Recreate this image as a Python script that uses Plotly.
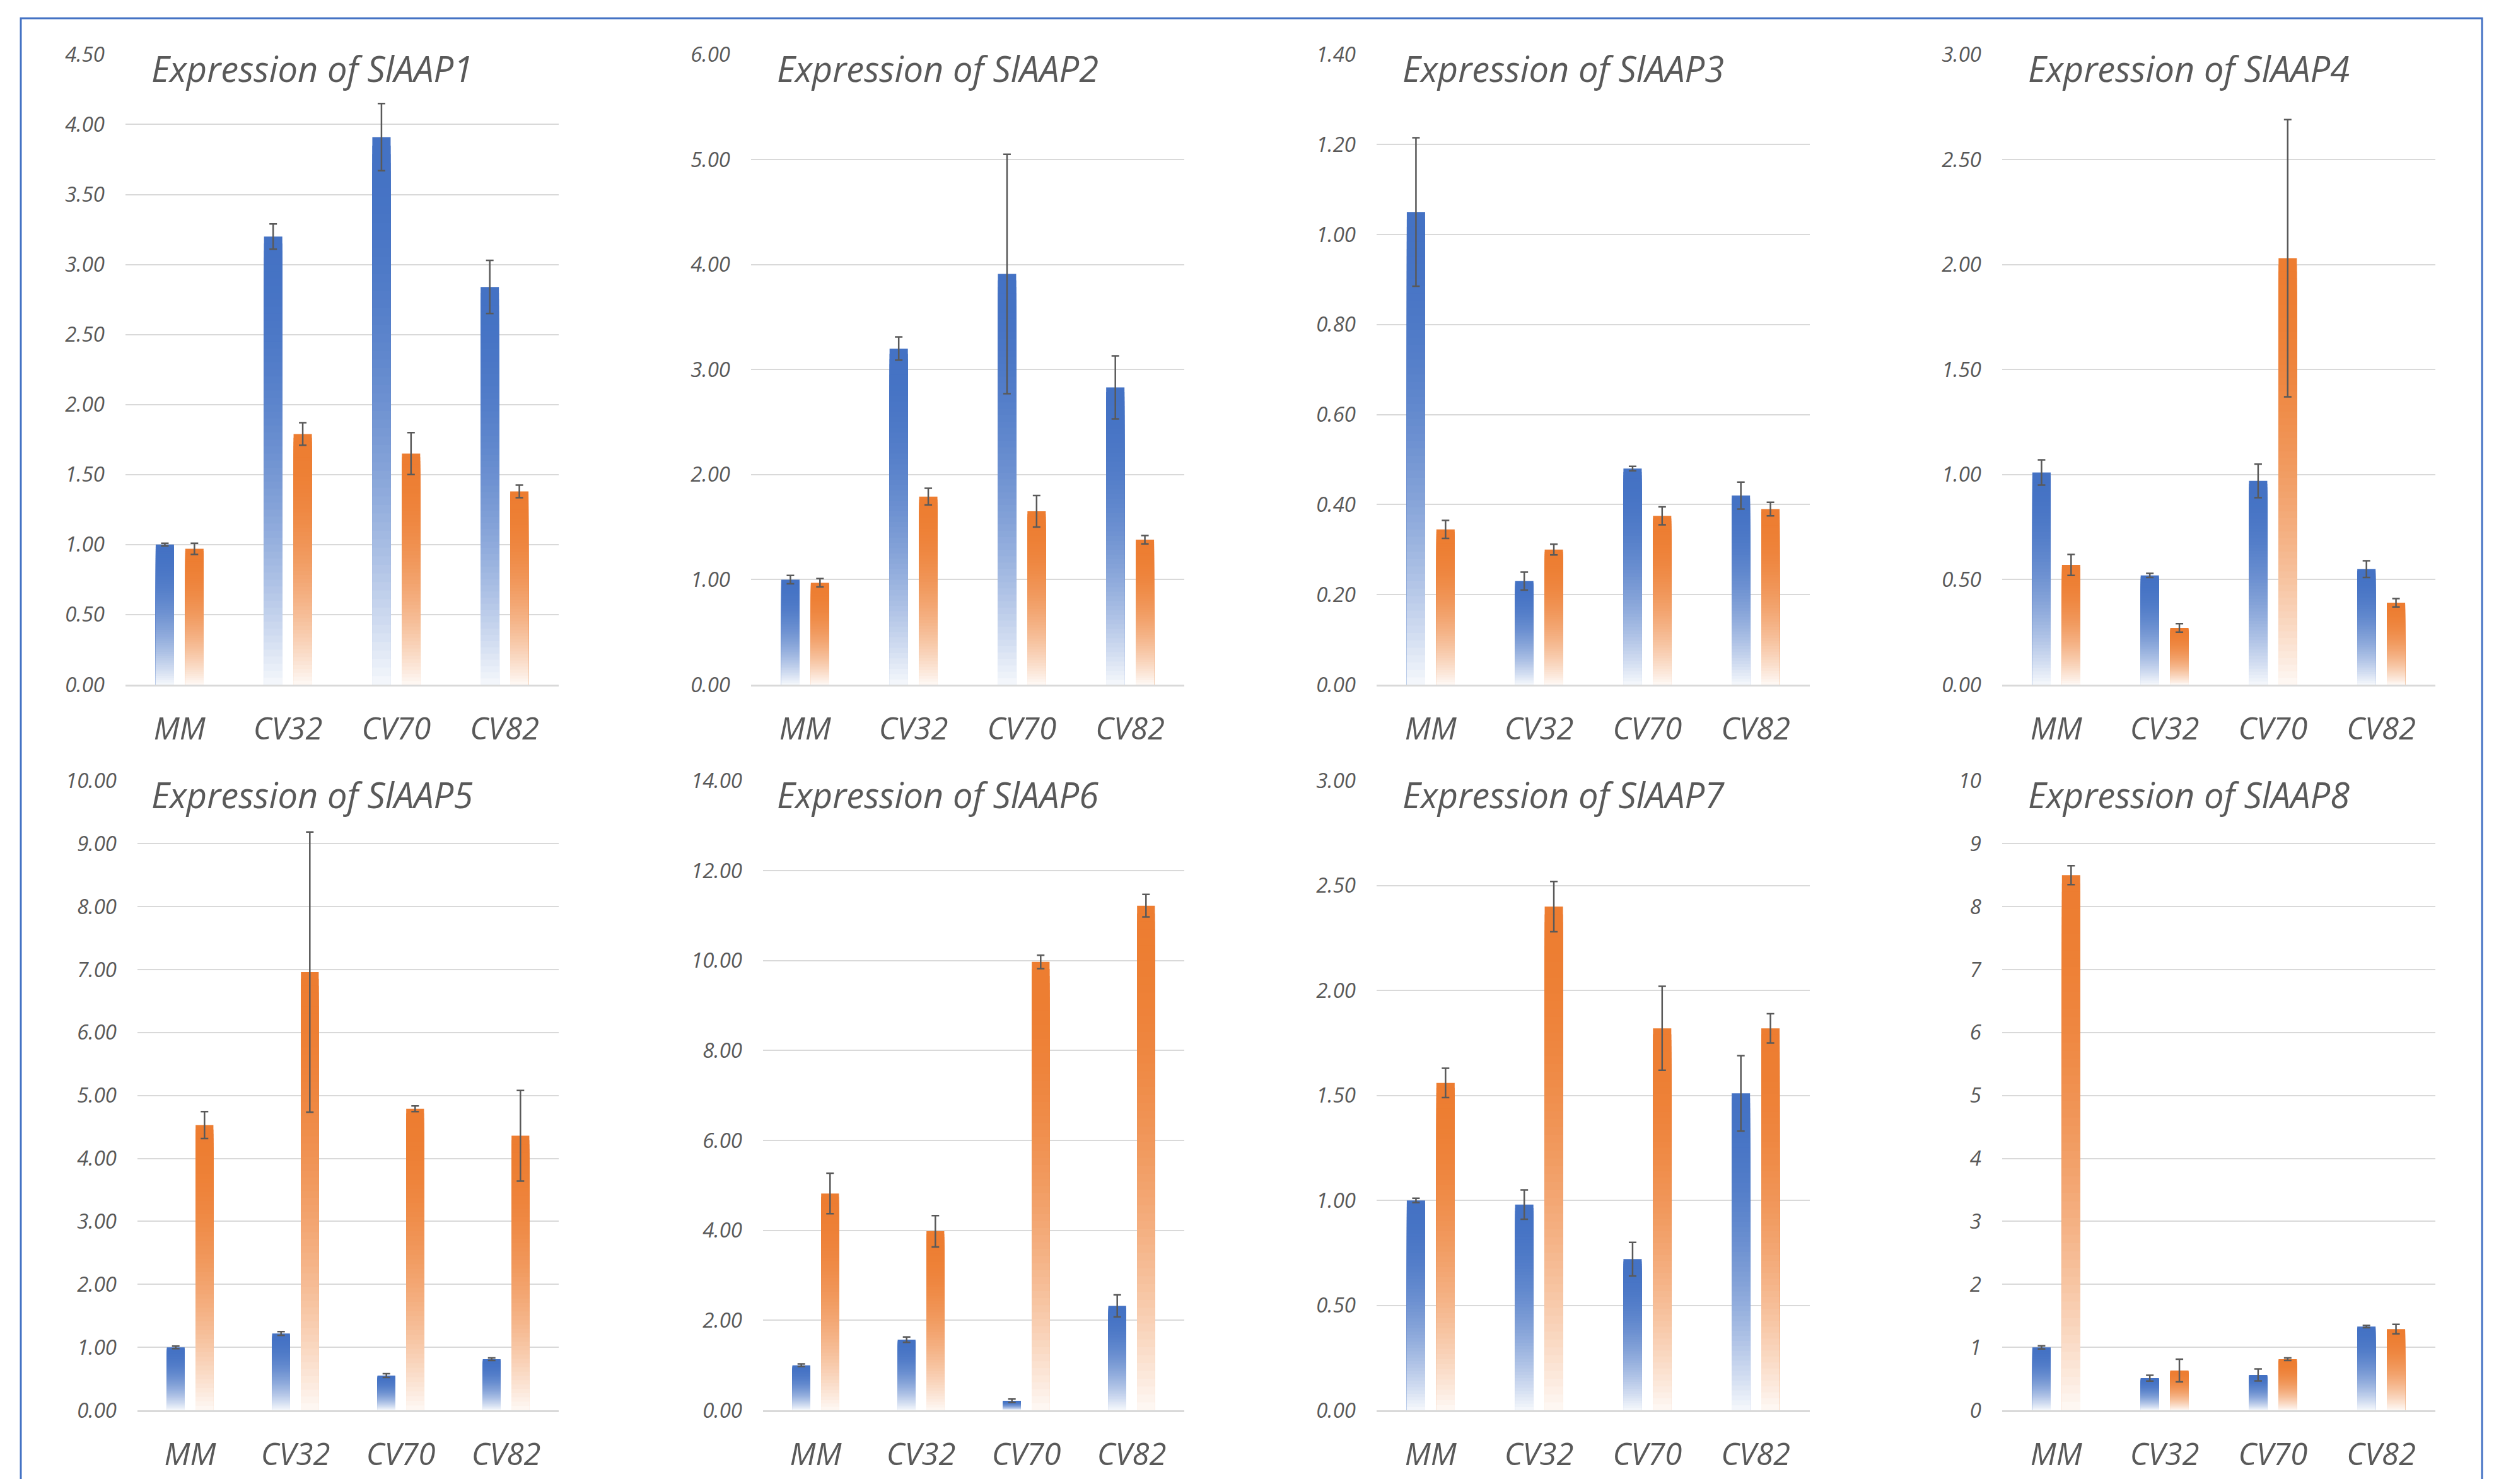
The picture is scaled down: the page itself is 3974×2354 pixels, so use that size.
import plotly.graph_objects as go

# ---------------- data ----------------
categories = ["MM", "CV32", "CV70", "CV82"]
titles = ["Expression of SlAAP1", "Expression of SlAAP2", "Expression of SlAAP3", "Expression of SlAAP4",
          "Expression of SlAAP5", "Expression of SlAAP6", "Expression of SlAAP7", "Expression of SlAAP8"]

aap1_blue = [1.00, 3.20, 3.91, 2.84]
aap1_blue_err = [0.01, 0.09, 0.24, 0.19]
aap1_orange = [0.97, 1.79, 1.65, 1.38]
aap1_orange_err = [0.04, 0.08, 0.15, 0.045]

aap2_blue = [1.00, 3.20, 3.91, 2.83]
aap2_blue_err = [0.04, 0.11, 1.14, 0.30]
aap2_orange = [0.97, 1.79, 1.65, 1.38]
aap2_orange_err = [0.04, 0.08, 0.15, 0.04]

aap3_blue = [1.05, 0.23, 0.48, 0.42]
aap3_blue_err = [0.165, 0.02, 0.005, 0.03]
aap3_orange = [0.345, 0.30, 0.375, 0.39]
aap3_orange_err = [0.02, 0.012, 0.02, 0.015]

aap4_blue = [1.01, 0.52, 0.97, 0.55]
aap4_blue_err = [0.06, 0.01, 0.08, 0.04]
aap4_orange = [0.57, 0.27, 2.03, 0.39]
aap4_orange_err = [0.05, 0.02, 0.66, 0.02]

aap5_blue = [1.00, 1.22, 0.55, 0.81]
aap5_blue_err = [0.02, 0.03, 0.03, 0.02]
aap5_orange = [4.53, 6.96, 4.79, 4.36]
aap5_orange_err = [0.215, 2.225, 0.045, 0.72]

aap6_blue = [1.00, 1.57, 0.21, 2.32]
aap6_blue_err = [0.03, 0.06, 0.04, 0.245]
aap6_orange = [4.82, 3.98, 9.97, 11.22]
aap6_orange_err = [0.45, 0.35, 0.15, 0.25]

aap7_blue = [1.00, 0.98, 0.72, 1.51]
aap7_blue_err = [0.01, 0.07, 0.08, 0.18]
aap7_orange = [1.56, 2.40, 1.82, 1.82]
aap7_orange_err = [0.07, 0.12, 0.20, 0.07]

aap8_blue = [1.00, 0.51, 0.56, 1.33]
aap8_blue_err = [0.025, 0.047, 0.095, 0.017]
aap8_orange = [8.50, 0.63, 0.81, 1.29]
aap8_orange_err = [0.15, 0.18, 0.02, 0.075]

y_max = [4.5, 6, 1.4, 3, 10, 14, 3, 10]
y_dtick = [0.5, 1, 0.2, 0.5, 1, 2, 0.5, 1]
y_format = [".2f", ".2f", ".2f", ".2f", ".2f", ".2f", ".2f", "d"]

blue_sets = [aap1_blue, aap2_blue, aap3_blue, aap4_blue, aap5_blue, aap6_blue, aap7_blue, aap8_blue]
blue_errs = [aap1_blue_err, aap2_blue_err, aap3_blue_err, aap4_blue_err,
             aap5_blue_err, aap6_blue_err, aap7_blue_err, aap8_blue_err]
orange_sets = [aap1_orange, aap2_orange, aap3_orange, aap4_orange,
               aap5_orange, aap6_orange, aap7_orange, aap8_orange]
orange_errs = [aap1_orange_err, aap2_orange_err, aap3_orange_err, aap4_orange_err,
               aap5_orange_err, aap6_orange_err, aap7_orange_err, aap8_orange_err]

# ---------------- style / layout ----------------
PAGE = 8                     # default body margin of the html page
W, H = 3974 - 2 * PAGE, 2354 - 2 * PAGE
TEXT = "#595959"
FONT = "Open Sans"
BLUE = (68, 114, 196)
ORANGE = (237, 125, 49)
N_STEPS = 64

col_off = [0, 992, 1984, 2976]
row_y = [(86, 1086), (1238, 2237)]
plot_left = [199, 199, 199, 199, 218, 218, 199, 199]
plot_right = 886
bar_w = 0.169
offsets = [-0.221, 0.052]


def px_x(px):
    return (px - PAGE) / W


def px_y(py):
    return 1 - (py - PAGE) / H


def shade(rgb, f):
    w = 0.95 * (1 - f) ** 2
    r, g, b = [int(round(c + (255 - c) * w)) for c in rgb]
    return f"rgb({r},{g},{b})"


fig = go.Figure()
layout = dict(
    width=W, height=H,
    margin=dict(l=0, r=0, t=0, b=0, autoexpand=False),
    paper_bgcolor="white", plot_bgcolor="white",
    barmode="overlay", showlegend=False,
    annotations=[], shapes=[],
)

for i in range(8):
    row, col = divmod(i, 4)
    ax = "" if i == 0 else str(i + 1)
    xref, yref = "x" + ax, "y" + ax
    ytop, ybot = row_y[row]
    layout["xaxis" + ax] = dict(
        domain=[px_x(col_off[col] + plot_left[i]), px_x(col_off[col] + plot_right)],
        anchor=yref, type="category", automargin=False,
        categoryorder="array", categoryarray=categories, range=[-0.5, 3.5],
        showline=True, linecolor="#D9D9D9", linewidth=2.5, showgrid=False,
        ticks="", ticklabelstandoff=25,
        tickfont=dict(family=FONT, size=49, color=TEXT, style="italic"),
    )
    layout["yaxis" + ax] = dict(
        domain=[px_y(ybot), px_y(ytop)], anchor=xref, automargin=False,
        range=[0, y_max[i] * 1.0004], tick0=0, dtick=y_dtick[i], tickformat=y_format[i],
        showgrid=True, gridcolor="#D9D9D9", gridwidth=2, zeroline=False, showline=False,
        ticks="", ticklabelstandoff=32,
        tickfont=dict(family=FONT, size=33, color=TEXT, style="italic"),
    )
    layout["annotations"].append(dict(
        text=titles[i], xref="paper", yref="paper",
        x=px_x(col_off[col] + 238), y=px_y(ytop + 22),
        xanchor="left", yanchor="middle", showarrow=False,
        font=dict(family=FONT, size=56, color=TEXT, style="italic"),
    ))

    for s, (vals, errs, base) in enumerate([(blue_sets[i], blue_errs[i], BLUE),
                                            (orange_sets[i], orange_errs[i], ORANGE)]):
        for k in range(N_STEPS, 0, -1):
            frac = k / N_STEPS
            fig.add_trace(go.Bar(
                x=categories, y=[v * frac for v in vals],
                width=bar_w, offset=offsets[s],
                marker=dict(color=shade(base, (k - 0.5) / N_STEPS), line=dict(width=0)),
                xaxis=xref, yaxis=yref, hoverinfo="skip",
            ))
        fig.add_trace(go.Bar(
            x=categories, y=vals, width=bar_w, offset=offsets[s],
            marker=dict(color="rgba(0,0,0,0)", line=dict(width=0)),
            error_y=dict(type="data", array=errs, color="#595959", thickness=2.5, width=6),
            xaxis=xref, yaxis=yref,
        ))

layout["shapes"].append(dict(
    type="rect", xref="paper", yref="paper",
    x0=px_x(33), x1=px_x(3936), y0=-0.02, y1=px_y(29),
    line=dict(color="#4472C4", width=3), fillcolor="rgba(0,0,0,0)", layer="above",
))

fig.update_layout(**layout)
fig.write_html("out.html")
